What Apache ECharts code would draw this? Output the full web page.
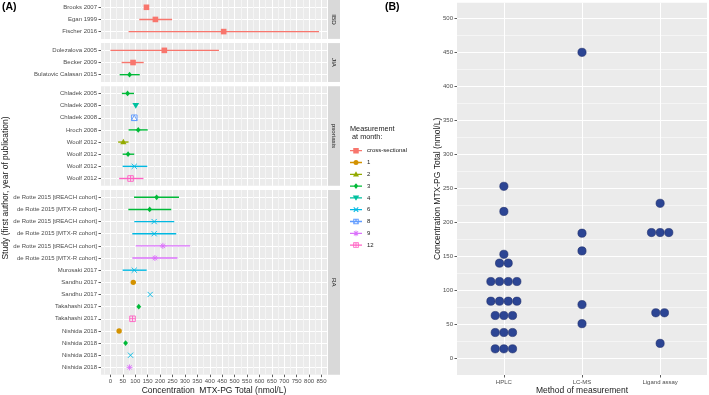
<!DOCTYPE html>
<html>
<head>
<meta charset="utf-8">
<title>MTX-PG concentrations</title>
<script src="https://cdn.jsdelivr.net/npm/echarts@6/dist/echarts.min.js"></script>
<style>
  html, body { margin: 0; padding: 0; background: #fff; }
  #chart { width: 709px; height: 395px; }
</style>
</head>
<body>
<div id="chart"></div>
<script>
// measurement month (legend order) and ggplot hue colours
const months = ['cross-sectional', '1', '2', '3', '4', '6', '8', '9', '12'];
const monthColors = ['#F8766D', '#D39200', '#93AA00', '#00BA38', '#00C19F', '#00B9E3', '#619CFF', '#DB72FB', '#FF61C3'];

// panel A - IBD
const ibdStudy = ['Brooks 2007', 'Egan 1999', 'Fischer 2016'];
const ibdMonth = ['cross-sectional', 'cross-sectional', 'cross-sectional'];
const ibdMean = [145, 181, 456];
const ibdLow = [null, 116, 73];
const ibdHigh = [null, 248, 840];

// panel A - JIA
const jiaStudy = ['Dolezalova 2005', 'Becker 2009', 'Bulatovic Calasan 2015'];
const jiaMonth = ['cross-sectional', 'cross-sectional', '3'];
const jiaMean = [217, 91, 77];
const jiaLow = [0, 45, 37];
const jiaHigh = [437, 134, 118];

// panel A - psoriasis
const psoStudy = ['Chladek 2005', 'Chladek 2008', 'Chladek 2008', 'Hroch 2008', 'Woolf 2012', 'Woolf 2012', 'Woolf 2012', 'Woolf 2012'];
const psoMonth = ['3', '4', '8', '3', '2', '3', '6', '12'];
const psoMean = [69, 102, 96, 112, 52, 71, 96, 81];
const psoLow = [46, null, null, 73, 31, 49, 49, 35];
const psoHigh = [95, null, null, 150, 73, 96, 148, 133];

// panel A - RA
const raStudy = ['de Rotte 2015 [tREACH cohort]', 'de Rotte 2015 [MTX-R cohort]', 'de Rotte 2015 [tREACH cohort]',
  'de Rotte 2015 [MTX-R cohort]', 'de Rotte 2015 [tREACH cohort]', 'de Rotte 2015 [MTX-R cohort]',
  'Murosaki 2017', 'Sandhu 2017', 'Sandhu 2017', 'Takahashi 2017', 'Takahashi 2017',
  'Nishida 2018', 'Nishida 2018', 'Nishida 2018', 'Nishida 2018'];
const raMonth = ['3', '3', '6', '6', '9', '9', '6', '1', '6', '3', '12', '1', '3', '6', '9'];
const raMean = [186, 158, 176, 176, 211, 179, 96, 92, 160, 114, 89, 35, 61, 81, 77];
const raLow = [95, 72, 96, 88, 102, 88, 49, null, null, null, null, null, null, null, null];
const raHigh = [276, 245, 257, 265, 321, 270, 146, null, null, null, null, null, null, null, null];

const concTicks = [0, 50, 100, 150, 200, 250, 300, 350, 400, 450, 500, 550, 600, 650, 700, 750, 800, 850];

// panel B - dot plot
const methods = ['HPLC', 'LC-MS', 'Ligand assay'];
const hplcValues = [14, 14, 14, 38, 38, 38, 63, 63, 63, 84, 84, 84, 84, 113, 113, 113, 113, 140, 140, 153, 216, 253];
const lcmsValues = [51, 79, 158, 184, 450];
const ligandValues = [22, 67, 67, 185, 185, 185, 228];
const totalTicks = [0, 50, 100, 150, 200, 250, 300, 350, 400, 450, 500];

const facets = [
  { label: 'IBD', study: ibdStudy, month: ibdMonth, mean: ibdMean, low: ibdLow, high: ibdHigh },
  { label: 'JIA', study: jiaStudy, month: jiaMonth, mean: jiaMean, low: jiaLow, high: jiaHigh },
  { label: 'psoriasis', study: psoStudy, month: psoMonth, mean: psoMean, low: psoLow, high: psoHigh },
  { label: 'RA', study: raStudy, month: raMonth, mean: raMean, low: raLow, high: raHigh }
];

const font = 'Liberation Sans, Arial, sans-serif';
const rowStep = 12.15;
const facetGap = 4.2;
const panelLeft = 101, panelWidth = 226;
const concMin = -38, concMax = 872;
const dotStep = 0.111;

// minor + major grid positions (ggplot style)
const concGrid = [-25];
concTicks.forEach(t => { concGrid.push(t, t + 25); });
const totalGrid = [];
totalTicks.forEach(t => { totalGrid.push(t); if (t < 500) totalGrid.push(t + 25); });

// ---- legend icon paths (24 x 16 box) ----
function poly(pts, positive) {
  let a = 0;
  for (let i = 0; i < pts.length; i++) {
    const p = pts[i], q = pts[(i + 1) % pts.length];
    a += p[0] * q[1] - q[0] * p[1];
  }
  if ((a > 0) !== (positive !== false)) pts = pts.slice().reverse();
  return 'M' + pts.map(p => p[0].toFixed(2) + ' ' + p[1].toFixed(2)).join(' L') + ' Z ';
}
function seg(x1, y1, x2, y2, w) {
  const dx = x2 - x1, dy = y2 - y1, len = Math.hypot(dx, dy);
  const nx = -dy / len * w / 2, ny = dx / len * w / 2;
  return poly([[x1 + nx, y1 + ny], [x2 + nx, y2 + ny], [x2 - nx, y2 - ny], [x1 - nx, y1 - ny]]);
}
function boxOutline(x0, y0, x1, y1, w) {
  return poly([[x0, y0], [x1, y0], [x1, y1], [x0, y1]]) + poly([[x0 + w, y0 + w], [x1 - w, y0 + w], [x1 - w, y1 - w], [x0 + w, y1 - w]], false);
}
const iconBase = 'M0 0 L0.01 0 L0 0.01 Z M24 16 L23.99 16 L24 15.99 Z ' + poly([[0, 6.7], [24, 6.7], [24, 9.3], [0, 9.3]]);
const iconShapes = {
  'cross-sectional': poly([[6.5, 2.5], [17.5, 2.5], [17.5, 13.5], [6.5, 13.5]]),
  '1': 'M7 8 A5 5 0 1 1 17 8 A5 5 0 1 1 7 8 Z ',
  '2': poly([[12, 1.8], [18, 12.5], [6, 12.5]]),
  '3': poly([[12, 2.3], [16.7, 8], [12, 13.7], [7.3, 8]]),
  '4': poly([[5.5, 3], [18.5, 3], [12, 13.8]]),
  '6': seg(7.5, 3.5, 16.5, 12.5, 2) + seg(16.5, 3.5, 7.5, 12.5, 2),
  '8': boxOutline(6.5, 2.5, 17.5, 13.5, 1.8) + poly([[12, 2.5], [17.5, 13.5], [6.5, 13.5]]) + poly([[12, 5.2], [15.6, 12.3], [8.4, 12.3]], false),
  '9': seg(7.8, 3.8, 16.2, 12.2, 1.8) + seg(16.2, 3.8, 7.8, 12.2, 1.8) + seg(12, 2.2, 12, 13.8, 1.8),
  '12': boxOutline(6.5, 2.5, 17.5, 13.5, 1.8) + seg(12, 2.5, 12, 13.5, 1.8)
};

// ---- point shapes in the forest plot ----
function markShape(month, x, y, color) {
  const fill = { fill: color };
  const line = { stroke: color, fill: 'none', lineWidth: 0.9 };
  const ln = (x1, y1, x2, y2) => ({ type: 'line', shape: { x1, y1, x2, y2 }, style: line });
  switch (month) {
    case 'cross-sectional':
      return [{ type: 'rect', shape: { x: x - 2.8, y: y - 2.8, width: 5.6, height: 5.6 }, style: fill }];
    case '1':
      return [{ type: 'circle', shape: { cx: x, cy: y, r: 2.7 }, style: fill }];
    case '2':
      return [{ type: 'polygon', shape: { points: [[x, y - 3.3], [x + 3.1, y + 2.1], [x - 3.1, y + 2.1]] }, style: fill }];
    case '3':
      return [{ type: 'polygon', shape: { points: [[x, y - 2.9], [x + 2.4, y], [x, y + 2.9], [x - 2.4, y]] }, style: fill }];
    case '4':
      return [{ type: 'polygon', shape: { points: [[x - 3.4, y - 2.6], [x + 3.4, y - 2.6], [x, y + 3.2]] }, style: fill }];
    case '6':
      return [ln(x - 2.6, y - 2.6, x + 2.6, y + 2.6), ln(x - 2.6, y + 2.6, x + 2.6, y - 2.6)];
    case '8':
      return [{ type: 'rect', shape: { x: x - 2.8, y: y - 2.8, width: 5.6, height: 5.6 }, style: line },
        { type: 'polygon', shape: { points: [[x, y - 2.8], [x + 2.8, y + 2.8], [x - 2.8, y + 2.8]] }, style: line }];
    case '9':
      return [ln(x - 2.2, y - 2.2, x + 2.2, y + 2.2), ln(x - 2.2, y + 2.2, x + 2.2, y - 2.2),
        ln(x, y - 3, x, y + 3), ln(x - 3, y, x + 3, y)];
    default:
      return [{ type: 'rect', shape: { x: x - 2.8, y: y - 2.8, width: 5.6, height: 5.6 }, style: line },
        ln(x, y - 2.8, x, y + 2.8), ln(x - 2.8, y, x + 2.8, y)];
  }
}

function forestRenderer(month) {
  return function (params, api) {
    const row = api.value(1);
    const c = api.coord([api.value(0), row]);
    const color = api.visual('color');
    const children = [];
    const lo = api.value(2), hi = api.value(3);
    if (!isNaN(lo) && !isNaN(hi)) {
      const a = api.coord([lo, row]), b = api.coord([hi, row]);
      children.push({ type: 'line', shape: { x1: a[0], y1: a[1], x2: b[0], y2: b[1] }, style: { stroke: color, lineWidth: 1.4 } });
    }
    return { type: 'group', children: children.concat(markShape(month, c[0], c[1], color)) };
  };
}

function stackDots(values, cat) {
  const counts = {}, seen = {};
  values.forEach(v => { counts[v] = (counts[v] || 0) + 1; });
  return values.map(v => {
    seen[v] = seen[v] === undefined ? 0 : seen[v] + 1;
    return [cat + (seen[v] - (counts[v] - 1) / 2) * dotStep, v];
  });
}

const grids = [], xAxes = [], yAxes = [], series = [], strips = [];
const tickStyle = { length: 2.5, lineStyle: { color: '#333333', width: 0.8 } };
const labelStyle = { fontSize: 6, color: '#4D4D4D', fontFamily: font };

let facetTop = 0;
facets.forEach((f, i) => {
  const n = f.study.length;
  const height = (n + 0.2) * rowStep;
  grids.push({ left: panelLeft, width: panelWidth, top: facetTop, height: height, outerBoundsMode: 'none',
    backgroundColor: '#EBEBEB', show: true, borderWidth: 0 });
  // grey facet strip on the right of each panel
  strips.push({ type: 'rect', shape: { x: panelLeft + panelWidth + 1, y: facetTop, width: 12, height: height }, style: { fill: '#D9D9D9' }, silent: true });
  strips.push({ type: 'text', x: panelLeft + panelWidth + 7, y: facetTop + height / 2, rotation: -Math.PI / 2, silent: true,
    style: { text: f.label, fontSize: 6.2, fill: '#1A1A1A', fontFamily: font, align: 'center', verticalAlign: 'middle' } });
  facetTop += height + facetGap;
  const rows = f.study.map((s, k) => k);
  xAxes.push({
    type: 'value', gridIndex: i, min: concMin, max: concMax,
    axisLine: { show: false }, axisLabel: { show: false },
    axisTick: { show: false, customValues: concGrid },
    splitLine: { show: true, lineStyle: { color: ['#F5F5F5', '#FFFFFF'], width: 1 } }
  });
  yAxes.push({
    type: 'value', gridIndex: i, inverse: true, min: -0.6, max: n - 0.4,
    axisLine: { show: false, onZero: false },
    axisTick: Object.assign({ show: true, customValues: rows }, tickStyle),
    axisLabel: Object.assign({ customValues: rows, margin: 4, formatter: v => f.study[Math.round(v)] }, labelStyle),
    splitLine: { show: true, lineStyle: { color: '#FFFFFF', width: 1 } }
  });
  months.forEach((m, mi) => {
    const data = [];
    f.month.forEach((fm, k) => { if (fm === m) data.push([f.mean[k], k, f.low[k], f.high[k]]); });
    if (!data.length) return;
    series.push({
      type: 'custom', name: m, xAxisIndex: i, yAxisIndex: i,
      itemStyle: { color: monthColors[mi] },
      renderItem: forestRenderer(m), data: data, silent: true
    });
  });
});
// x labels under the RA facet
xAxes.push({
  type: 'value', gridIndex: 3, position: 'bottom', min: concMin, max: concMax,
  axisLine: { show: false, onZero: false }, splitLine: { show: false },
  axisTick: Object.assign({ show: true, customValues: concTicks }, tickStyle),
  axisLabel: Object.assign({ customValues: concTicks, margin: 4 }, labelStyle),
  name: 'Concentration  MTX-PG Total (nmol/L)', nameLocation: 'middle', nameGap: 11, nameMoveOverlap: false,
  nameTextStyle: { fontSize: 8.5, color: '#1A1A1A', fontFamily: font }
});

// panel B
const panelBX = xAxes.length, panelBY = yAxes.length;
grids.push({ left: 457, width: 250, top: 2.7, height: 372.3, outerBoundsMode: 'none',
  backgroundColor: '#EBEBEB', show: true, borderWidth: 0 });
xAxes.push({
  type: 'value', gridIndex: 4, min: -0.6, max: 2.6,
  axisLine: { show: false, onZero: false },
  axisTick: Object.assign({ show: true, customValues: [0, 1, 2] }, tickStyle),
  axisLabel: Object.assign({ customValues: [0, 1, 2], margin: 4, formatter: v => methods[Math.round(v)] }, labelStyle),
  splitLine: { show: true, lineStyle: { color: '#FFFFFF', width: 1 } },
  name: 'Method of measurement', nameLocation: 'middle', nameGap: 11, nameMoveOverlap: false,
  nameTextStyle: { fontSize: 8.5, color: '#1A1A1A', fontFamily: font }
});
yAxes.push({
  type: 'value', gridIndex: 4, min: -24.5, max: 523,
  axisLine: { show: false, onZero: false }, axisLabel: { show: false },
  axisTick: { show: false, customValues: totalGrid },
  splitLine: { show: true, lineStyle: { color: ['#FFFFFF', '#F5F5F5'], width: 1 } }
});
yAxes.push({
  type: 'value', gridIndex: 4, position: 'left', min: -24.5, max: 523,
  axisLine: { show: false, onZero: false }, splitLine: { show: false },
  axisTick: Object.assign({ show: true, customValues: totalTicks }, tickStyle),
  axisLabel: Object.assign({ customValues: totalTicks, margin: 4 }, labelStyle),
  name: 'Concentration MTX-PG Total (nmol/L)', nameLocation: 'middle', nameGap: 14.5, nameMoveOverlap: false,
  nameTextStyle: { fontSize: 8.5, color: '#1A1A1A', fontFamily: font }
});
const dotData = stackDots(hplcValues, 0).concat(stackDots(lcmsValues, 1), stackDots(ligandValues, 2));
series.push({
  type: 'scatter', name: 'studies', xAxisIndex: panelBX, yAxisIndex: panelBY,
  symbolSize: 8.2, data: dotData, silent: true,
  itemStyle: { color: '#2C4594', borderColor: '#1C2C6A', borderWidth: 0.6, opacity: 1 }
});

const chart = echarts.init(document.getElementById('chart'), null, { renderer: 'canvas' });
chart.setOption({
  animation: false,
  backgroundColor: '#FFFFFF',
  textStyle: { fontFamily: font },
  title: [
    { text: '(A)', left: 2, top: 2, padding: 0, textStyle: { fontSize: 10.5, fontWeight: 'bold', color: '#000', fontFamily: font } },
    { text: '(B)', left: 385, top: 2, padding: 0, textStyle: { fontSize: 10.5, fontWeight: 'bold', color: '#000', fontFamily: font } },
    { text: 'Measurement\n at month:', left: 350, top: 125.5, padding: 0,
      textStyle: { fontSize: 7.3, lineHeight: 7.5, fontWeight: 'normal', color: '#1A1A1A', fontFamily: font } }
  ],
  legend: {
    orient: 'vertical', left: 350, top: 146.7, padding: 0,
    itemWidth: 12, itemHeight: 8, itemGap: 3.8, selectedMode: false,
    textStyle: { fontSize: 6, lineHeight: 8, color: '#1A1A1A', fontFamily: font },
    data: months.map(m => ({ name: m, icon: 'path://' + iconBase + iconShapes[m] }))
  },
  graphic: strips.concat([{
    type: 'text', x: 6, y: 188, rotation: Math.PI / 2, silent: true,
    style: { text: 'Study (first author, year of publication)', fontSize: 8.5, fill: '#1A1A1A', fontFamily: font, align: 'center', verticalAlign: 'middle' }
  }]),
  grid: grids,
  xAxis: xAxes,
  yAxis: yAxes,
  series: series
});
window.addEventListener('resize', () => chart.resize());
</script>
</body>
</html>
